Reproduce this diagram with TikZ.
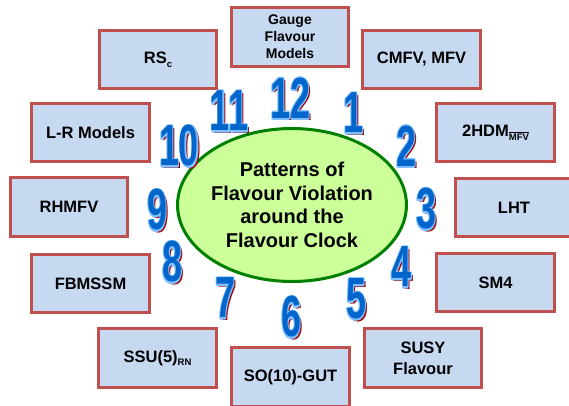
\documentclass[tikz,border=0pt]{standalone}
\usepackage{fontspec}
\setmainfont{Liberation Sans}
\usetikzlibrary{shapes.geometric}
\definecolor{cBOXRED}{HTML}{C0504D}
\definecolor{cBOXFILL}{HTML}{C6D9F0}
\definecolor{cFACE}{HTML}{CCFF99}
\definecolor{cRIM}{HTML}{008000}
\definecolor{cNUM}{HTML}{0066CC}
\definecolor{cNUMRIM}{HTML}{80C0FF}
\definecolor{cNUMSHADE}{HTML}{A00000}
\tikzset{
  modelbox/.style={
    draw=cBOXRED, line width=3.3pt,
    fill=cBOXFILL,
    inner sep=0pt,
    align=center,
    minimum width=117.5pt,
    minimum height=58.5pt,
    font=\bfseries\fontsize{16.5}{21}\selectfont
  },
  smallbox/.style={
    modelbox,
    font=\bfseries\fontsize{14}{17}\selectfont
  },
  clockface/.style={
    ellipse,
    draw=cRIM, line width=3pt,
    fill=cFACE,
    inner sep=0pt,
    minimum width=207pt,
    minimum height=153pt,
    align=center,
    font=\bfseries\fontsize{20}{23.5}\selectfont
  },
  hourtext/.style={
    inner sep=0pt,
    font=\bfseries\fontsize{58}{58}\selectfont
  }
}
\newcommand{\lowtext}[1]{\raisebox{-0.45ex}{\fontsize{9.5}{9.5}\selectfont #1}}
% numeral drawn with a light rim (stroked glyphs) over a dark red shadow
\newcommand{\clockhour}[3]{%
  \node[hourtext, text=cNUMSHADE, xshift=2.6pt, yshift=-2.6pt] at (#2) {\scalebox{0.62}[1]{#3}};%
  \node[hourtext, text=cNUMRIM] at (#2) {\scalebox{0.62}[1]{\special{pdf:code 2 Tr 1 j 3.2 w 0.5 0.753 1 RG}#3}};%
  \node[hourtext, text=cNUM] (#1) at (#2) {\scalebox{0.62}[1]{#3}};%
}

\begin{document}
\begin{tikzpicture}[x=1pt, y=-1pt]
  \useasboundingbox (0,0) rectangle (569,405);
  \clip (0,0) rectangle (569,405);

  % the clock face
  \node[clockface] (clock) at (292,205) {Patterns of\\Flavour Violation\\around the\\Flavour Clock};

  % models around the clock
  \node[smallbox] (gauge) at (290,37) {Gauge\\Flavour\\Models};
  \node[modelbox] (cmfv) at (421.5,59.5) {CMFV, MFV};
  \node[modelbox] (hdm) at (495.5,132.5) {2HDM\lowtext{$\overline{\mbox{MFV}}$}};
  \node[modelbox] (lht) at (514,207.5) {LHT};
  \node[modelbox] (smfour) at (495.5,282.5) {SM4};
  \node[modelbox] (susy) at (423,358) {SUSY\\Flavour};
  \node[modelbox] (soten) at (290.5,377) {SO(10)-GUT};
  \node[modelbox] (ssu) at (157.5,358) {SSU(5)\lowtext{RN}};
  \node[modelbox] (fbmssm) at (90.5,283.5) {FBMSSM};
  \node[modelbox] (rhmfv) at (69,207) {RHMFV};
  \node[modelbox] (lr) at (90.5,132.5) {L-R Models};
  \node[modelbox] (rs) at (158,59.5) {RS\lowtext{c}};

  % the hours
  \clockhour{h12}{290,98}{12}
  \clockhour{h1}{353,113}{1}
  \clockhour{h2}{406,146}{2}
  \clockhour{h3}{426,209}{3}
  \clockhour{h4}{401,267}{4}
  \clockhour{h5}{356,299}{5}
  \clockhour{h6}{291,317}{6}
  \clockhour{h7}{225,298}{7}
  \clockhour{h8}{172,262}{8}
  \clockhour{h9}{157,210}{9}
  \clockhour{h10}{179,146}{10}
  \clockhour{h11}{229,111}{11}
\end{tikzpicture}
\end{document}
